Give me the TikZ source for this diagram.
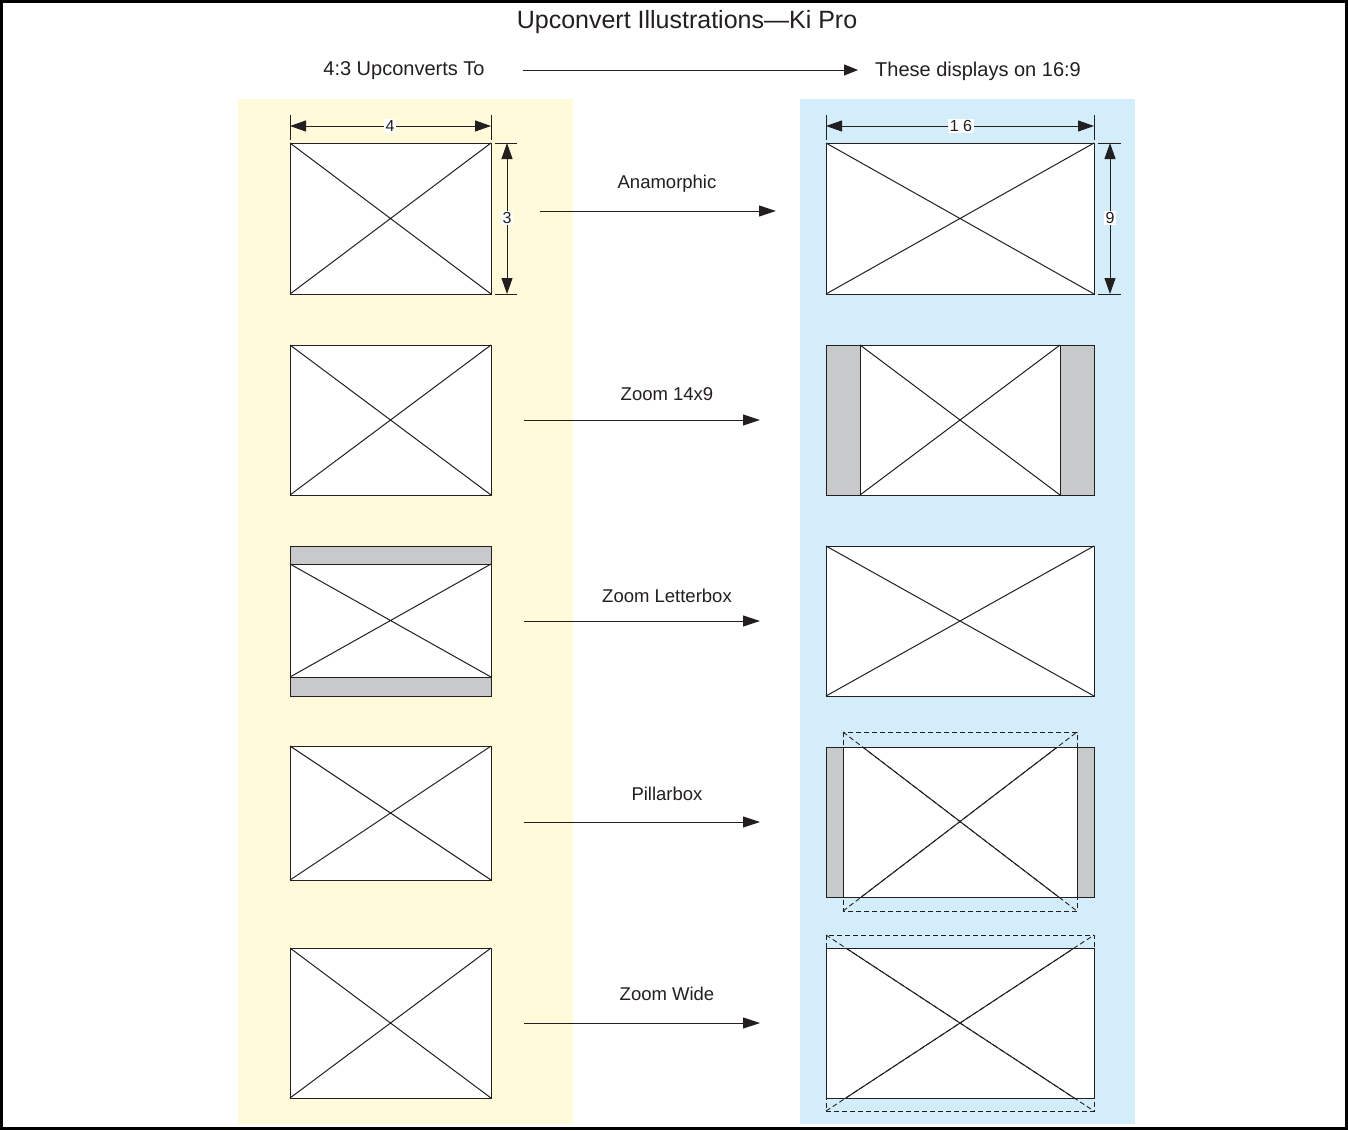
\documentclass[tikz,border=0pt]{standalone}
\usepackage{fontspec}
\setmainfont{Liberation Sans}
\usetikzlibrary{arrows.meta}
\definecolor{ink}{HTML}{231F20}
\definecolor{panelY}{HTML}{FFFBDA}
\definecolor{panelB}{HTML}{D3EEFA}
\definecolor{barg}{HTML}{C8C9CB}
\begin{document}
\begin{tikzpicture}[x=1pt,y=-1pt,
  ln/.style={draw=ink, line width=1pt},
  scr/.style={draw=ink, line width=1pt, fill=white},
  barbox/.style={draw=ink, line width=1pt, fill=barg},
  dsh/.style={draw=ink, line width=0.9pt, dash pattern=on 5pt off 3pt},
  arr/.style={draw=ink, line width=1pt, -{Triangle[length=17pt,width=11pt]}},
  dimarr/.style={draw=ink, line width=1pt, {Triangle[length=16pt,width=11pt]}-{Triangle[length=16pt,width=11pt]}},
  dimlbl/.style={fill=white, inner sep=1.5pt, text=ink, font=\fontsize{16}{16}\selectfont},
  lbl/.style={text=ink, font=\fontsize{18.5}{20}\selectfont},
  head/.style={text=ink, font=\fontsize{20}{22}\selectfont},
]
\useasboundingbox (0,0) rectangle (1348,1130);
\fill[white] (0,0) rectangle (1348,1130);
% panels
\fill[panelY] (238,99) rectangle (573,1124);
\fill[panelB] (800,99) rectangle (1135,1124);
% frame
\draw[black, line width=3pt] (1.5,1.5) rectangle (1346.5,1128.5);

% headings
\node[text=ink, font=\fontsize{25}{27}\selectfont] (title) at (687,22) {Upconvert Illustrations—Ki Pro};
\node[head] (lefthead) at (404,71) {4:3 Upconverts To};
\node[head] (righthead) at (978,71) {These displays on 16:9};
\coordinate (hs) at (523,70);
\coordinate (he) at (858,70);
\draw[line width=1pt, draw=ink, -{Triangle[length=14pt,width=11pt]}] (hs) -- (he);

% ---------- row 1: Anamorphic ----------
\draw[scr] (290,143) rectangle (491,294);
\draw[ln] (290,143) -- (491,294) (290,294) -- (491,143);
\draw[scr] (826,143) rectangle (1094,294);
\draw[ln] (826,143) -- (1094,294) (826,294) -- (1094,143);
% dimensions left
\draw[ln] (290,115) -- (290,140) (491,115) -- (491,140);
\draw[ln] (495,143) -- (517,143) (495,294) -- (517,294);
\coordinate (d4a) at (290,126); \coordinate (d4b) at (491,126);
\coordinate (d3a) at (507,143); \coordinate (d3b) at (507,294);
\draw[dimarr] (d4a) -- (d4b);
\draw[dimarr] (d3a) -- (d3b);
\node[dimlbl] (n4) at (390,126) {4};
\node[dimlbl] (n3) at (507,218) {3};
% dimensions right
\draw[ln] (826,115) -- (826,140) (1094,115) -- (1094,140);
\draw[ln] (1098,143) -- (1121,143) (1098,294) -- (1121,294);
\coordinate (d16a) at (826,126); \coordinate (d16b) at (1094,126);
\coordinate (d9a) at (1110,143); \coordinate (d9b) at (1110,294);
\draw[dimarr] (d16a) -- (d16b);
\draw[dimarr] (d9a) -- (d9b);
\node[dimlbl] (n16) at (961,126) {1 6};
\node[dimlbl] (n9) at (1110,218) {9};
% arrow
\node[lbl] (l1) at (667,184) {Anamorphic};
\coordinate (a1s) at (540,211); \coordinate (a1e) at (776,211);
\draw[arr] (a1s) -- (a1e);

% ---------- row 2: Zoom 14x9 ----------
\draw[scr] (290,345) rectangle (491,495);
\draw[ln] (290,345) -- (491,495) (290,495) -- (491,345);
\draw[scr] (826,345) rectangle (1094,495);
\draw[barbox] (826,345) rectangle (860,495);
\draw[barbox] (1060,345) rectangle (1094,495);
\draw[ln] (860,345) -- (1060,495) (860,495) -- (1060,345);
\node[lbl] (l2) at (667,394) {Zoom 14x9};
\coordinate (a2s) at (524,420); \coordinate (a2e) at (760,420);
\draw[arr] (a2s) -- (a2e);

% ---------- row 3: Zoom Letterbox ----------
\draw[scr] (290,546) rectangle (491,696);
\draw[barbox] (290,546) rectangle (491,564);
\draw[barbox] (290,677) rectangle (491,696);
\draw[ln] (290,564) -- (491,677) (290,677) -- (491,564);
\draw[scr] (826,546) rectangle (1094,696);
\draw[ln] (826,546) -- (1094,696) (826,696) -- (1094,546);
\node[lbl] (l3) at (667,596) {Zoom Letterbox};
\coordinate (a3s) at (524,621); \coordinate (a3e) at (760,621);
\draw[arr] (a3s) -- (a3e);

% ---------- row 4: Pillarbox ----------
\draw[scr] (290,746) rectangle (491,880);
\draw[ln] (290,746) -- (491,880) (290,880) -- (491,746);
\draw[scr] (826,747) rectangle (1094,897);
\draw[barbox] (826,747) rectangle (843,897);
\draw[barbox] (1077,747) rectangle (1094,897);
\draw[dsh] (843,732) rectangle (1077,911);
\draw[dsh] (843,732) -- (1077,911) (843,911) -- (1077,732);
\begin{scope}
  \clip (843,747) rectangle (1077,897);
  \draw[ln] (843,732) -- (1077,911) (843,911) -- (1077,732);
\end{scope}
\node[lbl] (l4) at (667,794) {Pillarbox};
\coordinate (a4s) at (524,822); \coordinate (a4e) at (760,822);
\draw[arr] (a4s) -- (a4e);

% ---------- row 5: Zoom Wide ----------
\draw[scr] (290,948) rectangle (491,1098);
\draw[ln] (290,948) -- (491,1098) (290,1098) -- (491,948);
\draw[scr] (826,948) rectangle (1094,1098);
\draw[dsh] (826,935) rectangle (1094,1111);
\draw[dsh] (826,935) -- (1094,1111) (826,1111) -- (1094,935);
\begin{scope}
  \clip (826,948) rectangle (1094,1098);
  \draw[ln] (826,935) -- (1094,1111) (826,1111) -- (1094,935);
\end{scope}
\node[lbl] (l5) at (667,994) {Zoom Wide};
\coordinate (a5s) at (524,1023); \coordinate (a5e) at (760,1023);
\draw[arr] (a5s) -- (a5e);
\end{tikzpicture}
\end{document}
